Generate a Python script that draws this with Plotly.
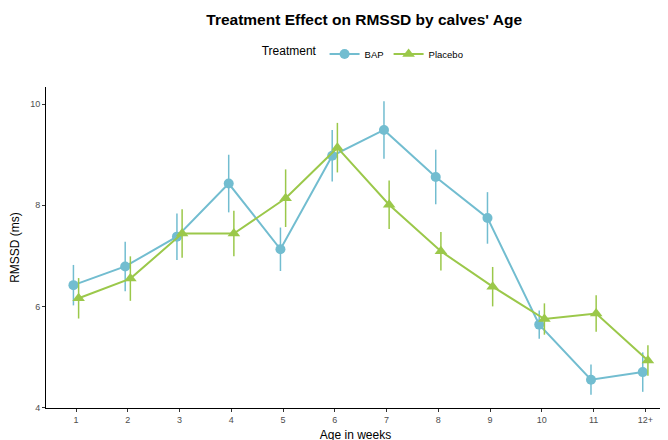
import plotly.graph_objects as go

ages = ["1", "2", "3", "4", "5", "6", "7", "8", "9", "10", "11", "12+"]
bap_mean = [6.42, 6.79, 7.38, 8.43, 7.13, 8.98, 9.49, 8.56, 7.75, 5.64, 4.55, 4.70]
bap_se = [0.40, 0.49, 0.46, 0.57, 0.43, 0.51, 0.57, 0.54, 0.51, 0.28, 0.30, 0.39]
placebo_mean = [6.16, 6.55, 7.44, 7.44, 8.14, 9.14, 8.01, 7.09, 6.39, 5.75, 5.86, 4.93]
placebo_se = [0.40, 0.44, 0.48, 0.45, 0.57, 0.49, 0.48, 0.38, 0.39, 0.31, 0.36, 0.30]

bap_color = "#72BDD0"
placebo_color = "#9BC84A"
dodge = 0.05
idx = list(range(1, len(ages) + 1))

fig = go.Figure()
fig.add_trace(go.Scatter(
    x=[i - dodge for i in idx], y=bap_mean, name="BAP",
    mode="lines+markers",
    line=dict(color=bap_color, width=2),
    marker=dict(symbol="circle", size=10, color=bap_color),
    error_y=dict(type="data", array=bap_se, visible=True, color=bap_color,
                 thickness=1.5, width=0),
))
fig.add_trace(go.Scatter(
    x=[i + dodge for i in idx], y=placebo_mean, name="Placebo",
    mode="lines+markers",
    line=dict(color=placebo_color, width=2),
    marker=dict(symbol="triangle-up", size=11, color=placebo_color),
    error_y=dict(type="data", array=placebo_se, visible=True, color=placebo_color,
                 thickness=1.5, width=0),
))

fig.update_layout(
    width=668, height=440,
    paper_bgcolor="white", plot_bgcolor="white",
    font=dict(family="Liberation Sans, Arial, sans-serif", color="black"),
    margin=dict(l=38, r=11, t=79, b=40, autoexpand=False),
    title=dict(text="<b>Treatment Effect on RMSSD by calves' Age</b>",
               xref="paper", x=0.514, xanchor="center",
               yref="container", y=0.974, yanchor="middle",
               font=dict(size=15.5, color="black"), automargin=False),
    legend=dict(orientation="h", x=0.514, xanchor="center", y=1.103, yanchor="middle",
                title=dict(text="Treatment", side="left", font=dict(size=12)),
                font=dict(size=9.5), itemwidth=30),
    showlegend=True,
)
fig.update_xaxes(
    range=[0.42, 12.38], tickmode="array", tickvals=idx, ticktext=ages,
    automargin=False,
    showgrid=False, zeroline=False, showline=True, linecolor="black", linewidth=1,
    ticks="outside", ticklen=3, tickcolor="#333333",
    tickfont=dict(size=9, color="#4d4d4d"),
    title=dict(text="Age in weeks", font=dict(size=12), standoff=6),
)
fig.update_yaxes(
    range=[3.99, 10.34], tickvals=[4, 6, 8, 10],
    automargin=False,
    showgrid=False, zeroline=False, showline=True, linecolor="black", linewidth=1,
    ticks="outside", ticklen=3, tickcolor="#333333",
    tickfont=dict(size=9, color="#4d4d4d"),
    title=dict(text="RMSSD (ms)", font=dict(size=12), standoff=8),
)

fig.write_html("out.html")
